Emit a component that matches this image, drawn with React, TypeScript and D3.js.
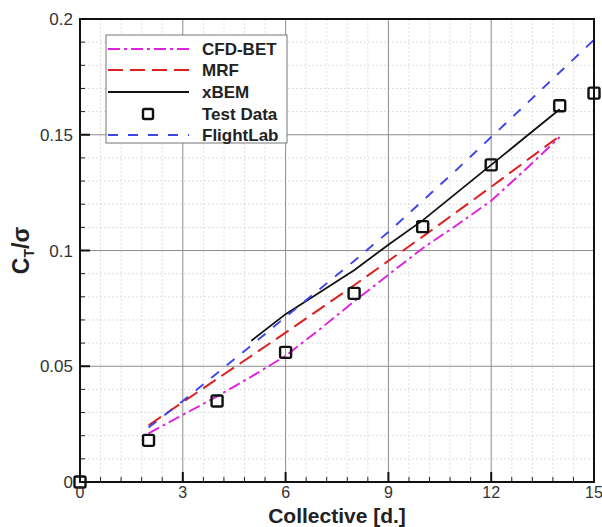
import React from "react";
import * as d3 from "d3";

// Thrust coefficient (C_T / sigma) vs collective pitch, degrees
const cfdBetX = [2, 3, 4, 5, 6, 7, 8, 9, 10, 11, 12, 13, 14];
const cfdBetY = [0.021, 0.029, 0.037, 0.0455, 0.0545, 0.066, 0.078, 0.0895, 0.101, 0.111, 0.1215, 0.135, 0.149];

const mrfX = [2, 4, 6, 8, 10, 12, 14];
const mrfY = [0.0245, 0.0445, 0.0645, 0.085, 0.106, 0.1275, 0.1495];

const xbemX = [5, 6, 7, 8, 9, 10, 11, 12, 13, 14];
const xbemY = [0.061, 0.0725, 0.082, 0.0915, 0.1025, 0.113, 0.125, 0.137, 0.149, 0.161];

const testX = [0, 2, 4, 6, 8, 10, 12, 14, 15];
const testY = [0, 0.018, 0.035, 0.056, 0.0815, 0.1103, 0.137, 0.1625, 0.168];

const flightLabX = [2, 3, 4, 5, 6, 7, 8, 9, 10, 11, 12, 13, 14, 15];
const flightLabY = [0.0235, 0.035, 0.047, 0.059, 0.0713, 0.0834, 0.0955, 0.108, 0.1215, 0.135, 0.149, 0.163, 0.177, 0.191];

const xTicks = [0, 3, 6, 9, 12, 15];
const yTicks = [0, 0.05, 0.1, 0.15, 0.2];
const yTickLabels = ["0", "0.05", "0.1", "0.15", "0.2"];

const legendNames = ["CFD-BET", "MRF", "xBEM", "Test Data", "FlightLab"];

const left = 80;
const right = 594;
const top = 19;
const bottom = 482;

export default function App() {
  const x = d3.scaleLinear().domain([0, 15]).range([left, right]);
  const y = d3.scaleLinear().domain([0, 0.2]).range([bottom, top]);

  const line = d3
    .line<[number, number]>()
    .x((d) => x(d[0]))
    .y((d) => y(d[1]));

  const pts = (xs: number[], ys: number[]) => xs.map((v, i) => [v, ys[i]] as [number, number]);

  const minorX = d3.range(0, 15.001, 0.6).filter((v) => Math.abs(v / 3 - Math.round(v / 3)) > 1e-6);
  const minorY = d3.range(0, 0.2001, 0.01).filter((v) => Math.abs(v / 0.05 - Math.round(v / 0.05)) > 1e-6);

  const font = "Arial, 'Liberation Sans', Helvetica, sans-serif";

  const series = [
    { name: legendNames[0], d: line(pts(cfdBetX, cfdBetY)), color: "#e020e0", dash: "12,4,3,4", w: 1.9 },
    { name: legendNames[1], d: line(pts(mrfX, mrfY)), color: "#dd2020", dash: "15,7", w: 2 },
    { name: legendNames[2], d: line(pts(xbemX, xbemY)), color: "#111111", dash: "", w: 1.8 },
    { name: legendNames[4], d: line(pts(flightLabX, flightLabY)), color: "#3d45e8", dash: "10,10", w: 1.9 },
  ];

  const legendX = 106;
  const legendY = 35;
  const rowY = [49, 70, 92, 114, 135];

  return (
    <svg width={602} height={527} style={{ position: "absolute", left: 0, top: 0, background: "#fff" }}>
      {/* minor grid */}
      {minorX.map((v) => (
        <line key={"mx" + v} x1={x(v)} x2={x(v)} y1={top} y2={bottom} stroke="#d8d8d8" strokeWidth={0.8} strokeDasharray="2,2" />
      ))}
      {minorY.map((v) => (
        <line key={"my" + v} x1={left} x2={right} y1={y(v)} y2={y(v)} stroke="#d8d8d8" strokeWidth={0.8} strokeDasharray="2,2" />
      ))}
      {/* major grid */}
      {xTicks.map((v) => (
        <line key={"gx" + v} x1={x(v)} x2={x(v)} y1={top} y2={bottom} stroke="#8c8c8c" strokeWidth={1} />
      ))}
      {yTicks.map((v) => (
        <line key={"gy" + v} x1={left} x2={right} y1={y(v)} y2={y(v)} stroke="#8c8c8c" strokeWidth={1} />
      ))}

      {/* ticks */}
      {minorX.map((v) => (
        <line key={"tmx" + v} x1={x(v)} x2={x(v)} y1={bottom} y2={bottom - 5} stroke="#222" strokeWidth={1} />
      ))}
      {xTicks.map((v) => (
        <line key={"tx" + v} x1={x(v)} x2={x(v)} y1={bottom} y2={bottom - 10} stroke="#111" strokeWidth={2} />
      ))}
      {minorY.map((v) => (
        <line key={"tmy" + v} x1={left} x2={left + 5} y1={y(v)} y2={y(v)} stroke="#222" strokeWidth={1} />
      ))}
      {yTicks.map((v) => (
        <line key={"ty" + v} x1={left} x2={left + 10} y1={y(v)} y2={y(v)} stroke="#111" strokeWidth={2} />
      ))}

      {/* series lines */}
      {series.map((s) => (
        <path key={s.name} d={s.d || ""} fill="none" stroke={s.color} strokeWidth={s.w} strokeDasharray={s.dash} />
      ))}

      {/* frame */}
      <rect x={left} y={top} width={right - left} height={bottom - top} fill="none" stroke="#111" strokeWidth={2} />

      {/* test data markers */}
      {testX.map((v, i) => (
        <rect key={"td" + i} x={x(v) - 5.5} y={y(testY[i]) - 5.5} width={11} height={11} rx={1.5} fill="none" stroke="#111" strokeWidth={2.4} />
      ))}

      {/* tick labels */}
      {xTicks.map((v) => (
        <text key={"lx" + v} x={x(v)} y={bottom + 16} textAnchor="middle" fontFamily={font} fontSize={16} fill="#333">
          {v}
        </text>
      ))}
      {yTicks.map((v, i) => (
        <text key={"ly" + v} x={left - 7} y={y(v) + 6} textAnchor="end" fontFamily={font} fontSize={17} fill="#333">
          {yTickLabels[i]}
        </text>
      ))}

      {/* axis titles */}
      <text x={337} y={523} textAnchor="middle" fontFamily={font} fontSize={21} fontWeight="bold" fill="#222">
        Collective [d.]
      </text>
      <text transform={`translate(29,${(top + bottom) / 2}) rotate(-90)`} textAnchor="middle" fontFamily={font} fontSize={23} fontWeight="bold" fill="#222">
        C<tspan fontSize={14} dy={5}>T</tspan>
        <tspan dy={-5}>/σ</tspan>
      </text>

      {/* legend */}
      <rect x={legendX} y={legendY} width={181} height={108} fill="#fff" stroke="#777" strokeWidth={1} />
      {[0, 1, 2, 4].map((k, j) => {
        const s = series[j];
        return (
          <line key={"lg" + k} x1={legendX + 2} x2={189} y1={rowY[k]} y2={rowY[k]} stroke={s.color} strokeWidth={s.w} strokeDasharray={s.dash} />
        );
      })}
      <rect x={148 - 5} y={rowY[3] - 5} width={10} height={10} rx={1.5} fill="none" stroke="#111" strokeWidth={2.4} />
      {legendNames.map((n, i) => (
        <text key={"ln" + n} x={202} y={rowY[i] + 6} fontFamily={font} fontSize={17} fontWeight="bold" fill="#222">
          {n}
        </text>
      ))}
    </svg>
  );
}
